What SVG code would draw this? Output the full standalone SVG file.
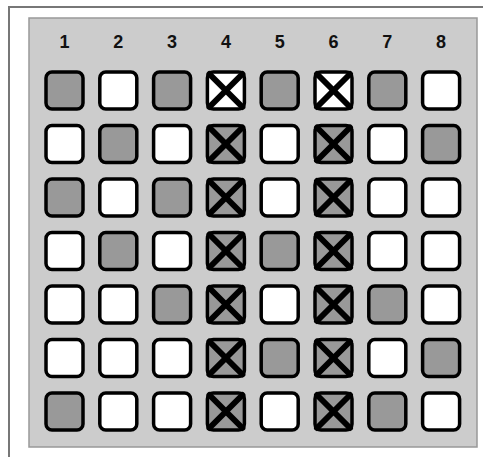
<svg xmlns="http://www.w3.org/2000/svg" width="483" height="457" viewBox="0 0 483 457">
<style>
.lbl{font-family:"Liberation Sans",Arial,sans-serif;font-weight:bold;font-size:18px;fill:#111;text-anchor:middle}
.c{stroke:#000;stroke-width:3.5}
.g{fill:#999999}
.w{fill:#ffffff}
.x{stroke:#000;stroke-width:6;stroke-linecap:round}
</style>
<defs>
<rect id="cell" x="0" y="0" width="37" height="37" rx="6"/>
<g id="xmark"><line x1="2" y1="2" x2="35" y2="35"/><line x1="35" y1="2" x2="2" y2="35"/></g>
</defs>
<rect x="9" y="7" width="480" height="460" fill="#ffffff" stroke="#777" stroke-width="2"/>
<rect x="29" y="18" width="448" height="429" fill="#cccccc" stroke="#999" stroke-width="1.5"/>
<g id="labels">
<text class="lbl" x="64.5" y="47.5">1</text>
<text class="lbl" x="118.3" y="47.5">2</text>
<text class="lbl" x="172.1" y="47.5">3</text>
<text class="lbl" x="225.9" y="47.5">4</text>
<text class="lbl" x="279.7" y="47.5">5</text>
<text class="lbl" x="333.5" y="47.5">6</text>
<text class="lbl" x="387.3" y="47.5">7</text>
<text class="lbl" x="441.1" y="47.5">8</text>
</g>
<g id="row1">
<use href="#cell" class="c g" x="46" y="72"/>
<use href="#cell" class="c w" x="99.8" y="72"/>
<use href="#cell" class="c g" x="153.6" y="72"/>
<g id="r1c4"><use href="#cell" class="c w" x="207.4" y="72"/><use href="#xmark" class="x" x="207.4" y="72"/></g>
<use href="#cell" class="c g" x="261.2" y="72"/>
<g id="r1c6"><use href="#cell" class="c w" x="315" y="72"/><use href="#xmark" class="x" x="315" y="72"/></g>
<use href="#cell" class="c g" x="368.8" y="72"/>
<use href="#cell" class="c w" x="422.6" y="72"/>
</g>
<g id="row2">
<use href="#cell" class="c w" x="46" y="125.5"/>
<use href="#cell" class="c g" x="99.8" y="125.5"/>
<use href="#cell" class="c w" x="153.6" y="125.5"/>
<g><use href="#cell" class="c g" x="207.4" y="125.5"/><use href="#xmark" class="x" x="207.4" y="125.5"/></g>
<use href="#cell" class="c w" x="261.2" y="125.5"/>
<g><use href="#cell" class="c g" x="315" y="125.5"/><use href="#xmark" class="x" x="315" y="125.5"/></g>
<use href="#cell" class="c w" x="368.8" y="125.5"/>
<use href="#cell" class="c g" x="422.6" y="125.5"/>
</g>
<g id="row3">
<use href="#cell" class="c g" x="46" y="179"/>
<use href="#cell" class="c w" x="99.8" y="179"/>
<use href="#cell" class="c g" x="153.6" y="179"/>
<g><use href="#cell" class="c g" x="207.4" y="179"/><use href="#xmark" class="x" x="207.4" y="179"/></g>
<use href="#cell" class="c w" x="261.2" y="179"/>
<g><use href="#cell" class="c g" x="315" y="179"/><use href="#xmark" class="x" x="315" y="179"/></g>
<use href="#cell" class="c w" x="368.8" y="179"/>
<use href="#cell" class="c w" x="422.6" y="179"/>
</g>
<g id="row4">
<use href="#cell" class="c w" x="46" y="232.5"/>
<use href="#cell" class="c g" x="99.8" y="232.5"/>
<use href="#cell" class="c w" x="153.6" y="232.5"/>
<g><use href="#cell" class="c g" x="207.4" y="232.5"/><use href="#xmark" class="x" x="207.4" y="232.5"/></g>
<use href="#cell" class="c g" x="261.2" y="232.5"/>
<g><use href="#cell" class="c g" x="315" y="232.5"/><use href="#xmark" class="x" x="315" y="232.5"/></g>
<use href="#cell" class="c w" x="368.8" y="232.5"/>
<use href="#cell" class="c w" x="422.6" y="232.5"/>
</g>
<g id="row5">
<use href="#cell" class="c w" x="46" y="286"/>
<use href="#cell" class="c w" x="99.8" y="286"/>
<use href="#cell" class="c g" x="153.6" y="286"/>
<g><use href="#cell" class="c g" x="207.4" y="286"/><use href="#xmark" class="x" x="207.4" y="286"/></g>
<use href="#cell" class="c w" x="261.2" y="286"/>
<g><use href="#cell" class="c g" x="315" y="286"/><use href="#xmark" class="x" x="315" y="286"/></g>
<use href="#cell" class="c g" x="368.8" y="286"/>
<use href="#cell" class="c w" x="422.6" y="286"/>
</g>
<g id="row6">
<use href="#cell" class="c w" x="46" y="339.5"/>
<use href="#cell" class="c w" x="99.8" y="339.5"/>
<use href="#cell" class="c w" x="153.6" y="339.5"/>
<g><use href="#cell" class="c g" x="207.4" y="339.5"/><use href="#xmark" class="x" x="207.4" y="339.5"/></g>
<use href="#cell" class="c g" x="261.2" y="339.5"/>
<g><use href="#cell" class="c g" x="315" y="339.5"/><use href="#xmark" class="x" x="315" y="339.5"/></g>
<use href="#cell" class="c w" x="368.8" y="339.5"/>
<use href="#cell" class="c g" x="422.6" y="339.5"/>
</g>
<g id="row7">
<use href="#cell" class="c g" x="46" y="393"/>
<use href="#cell" class="c w" x="99.8" y="393"/>
<use href="#cell" class="c w" x="153.6" y="393"/>
<g><use href="#cell" class="c g" x="207.4" y="393"/><use href="#xmark" class="x" x="207.4" y="393"/></g>
<use href="#cell" class="c w" x="261.2" y="393"/>
<g><use href="#cell" class="c g" x="315" y="393"/><use href="#xmark" class="x" x="315" y="393"/></g>
<use href="#cell" class="c g" x="368.8" y="393"/>
<use href="#cell" class="c w" x="422.6" y="393"/>
</g>
</svg>
